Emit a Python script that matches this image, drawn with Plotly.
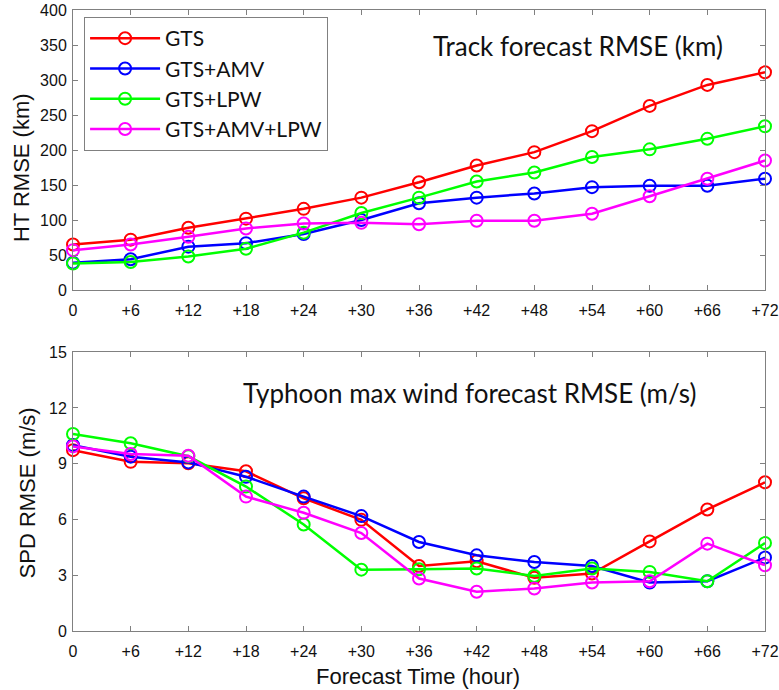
import plotly.graph_objects as go

hours = [0, 6, 12, 18, 24, 30, 36, 42, 48, 54, 60, 66, 72]
hour_labels = ["0", "+6", "+12", "+18", "+24", "+30", "+36", "+42", "+48", "+54", "+60", "+66", "+72"]

series_names = ["GTS", "GTS+AMV", "GTS+LPW", "GTS+AMV+LPW"]
series_colors = ["#ff0000", "#0000ff", "#00ff00", "#ff00ff"]

# track error (km)
ht_gts = [65, 72, 89, 102, 116, 132, 154, 178, 197, 227, 263, 293, 311]
ht_amv = [39, 44, 62, 67, 80, 100, 124, 132, 138, 147, 149, 149, 159]
ht_lpw = [38, 40, 48, 59, 82, 110, 132, 155, 168, 190, 201, 216, 234]
ht_all = [57, 65, 76, 88, 95, 96, 94, 99, 99, 109, 134, 159, 185]

# max wind speed error (m/s)
spd_gts = [9.73, 9.1, 9.02, 8.59, 7.14, 5.98, 3.5, 3.75, 2.86, 3.09, 4.82, 6.54, 8.0]
spd_amv = [10.0, 9.38, 9.07, 8.3, 7.23, 6.18, 4.79, 4.07, 3.71, 3.5, 2.61, 2.68, 3.95]
spd_lpw = [10.6, 10.1, 9.4, 7.77, 5.73, 3.3, 3.32, 3.36, 2.96, 3.36, 3.18, 2.68, 4.73]
spd_all = [9.93, 9.52, 9.43, 7.23, 6.36, 5.27, 2.82, 2.11, 2.29, 2.61, 2.68, 4.7, 3.54]

ht_data = [ht_gts, ht_amv, ht_lpw, ht_all]
spd_data = [spd_gts, spd_amv, spd_lpw, spd_all]

fig = go.Figure()

for name, col, ys in zip(series_names, series_colors, ht_data):
    fig.add_trace(go.Scatter(
        x=hours, y=ys, name=name, mode="lines+markers",
        line=dict(color=col, width=2.5),
        marker=dict(symbol="circle-open", size=12, color=col, line=dict(width=2, color=col)),
        cliponaxis=False, xaxis="x", yaxis="y"))

for name, col, ys in zip(series_names, series_colors, spd_data):
    fig.add_trace(go.Scatter(
        x=hours, y=ys, name=name, mode="lines+markers", showlegend=False,
        line=dict(color=col, width=2.5),
        marker=dict(symbol="circle-open", size=12, color=col, line=dict(width=2, color=col)),
        cliponaxis=False, xaxis="x2", yaxis="y2"))

tick_font = dict(family="Liberation Sans, Arial, sans-serif", size=16, color="#111")
ax_common = dict(showline=True, linecolor="#808080", linewidth=1, mirror="ticks",
                 ticks="inside", ticklen=5, tickcolor="#808080",
                 showgrid=False, zeroline=False, tickfont=tick_font, automargin=False)

title_font = dict(family="Liberation Sans, Arial, sans-serif", size=22, color="#111")
note_font = dict(family="Lato, Open Sans, sans-serif", size=26, color="#111")

fig.update_layout(
    width=779, height=690,
    margin=dict(l=73, r=14, t=10, b=59),
    paper_bgcolor="white", plot_bgcolor="white",
    xaxis=dict(domain=[0, 1], range=[0, 72], tickvals=hours, ticktext=hour_labels,
               anchor="y", ticklabelstandoff=6, ticklabeloverflow="allow", **ax_common),
    yaxis=dict(domain=[0.549, 1], range=[0, 400], tickvals=list(range(0, 401, 50)),
               anchor="x", ticklabelstandoff=2, **ax_common),
    xaxis2=dict(domain=[0, 1], range=[0, 72], tickvals=hours, ticktext=hour_labels,
                anchor="y2", ticklabelstandoff=6, ticklabeloverflow="allow", **ax_common),
    yaxis2=dict(domain=[0, 0.449], range=[0, 15], tickvals=[0, 3, 6, 9, 12, 15],
                anchor="x2", ticklabelstandoff=2, **ax_common),
    legend=dict(x=0.016, y=0.9887, xanchor="left", yanchor="top",
                bgcolor="white", bordercolor="#808080", borderwidth=1,
                font=dict(family="Lato, Open Sans, sans-serif", size=21, color="#111"),
                itemwidth=70),
    annotations=[
        dict(text="Track forecast RMSE (km)", xref="x", yref="y", x=52.5, y=348,
             xanchor="center", yanchor="middle", showarrow=False, font=note_font),
        dict(text="Typhoon max wind forecast RMSE (m/s)", xref="x2", yref="y2", x=41.3, y=12.8,
             xanchor="center", yanchor="middle", showarrow=False, font=note_font),
        dict(text="HT RMSE (km)", xref="paper", yref="paper", x=-0.0735, y=0.7456,
             xanchor="center", yanchor="middle", textangle=-90, showarrow=False, font=title_font),
        dict(text="SPD RMSE (m/s)", xref="paper", yref="paper", x=-0.066, y=0.222,
             xanchor="center", yanchor="middle", textangle=-90, showarrow=False, font=title_font),
        dict(text="Forecast Time (hour)", xref="paper", yref="paper", x=0.4986, y=-0.074,
             xanchor="center", yanchor="middle", showarrow=False, font=title_font),
    ],
)

# page body has a default 8px margin; drop it so the figure sits at the corner
fig.write_html("out.html", config={"displayModeBar": False},
               post_script="document.body.style.margin='0';")
